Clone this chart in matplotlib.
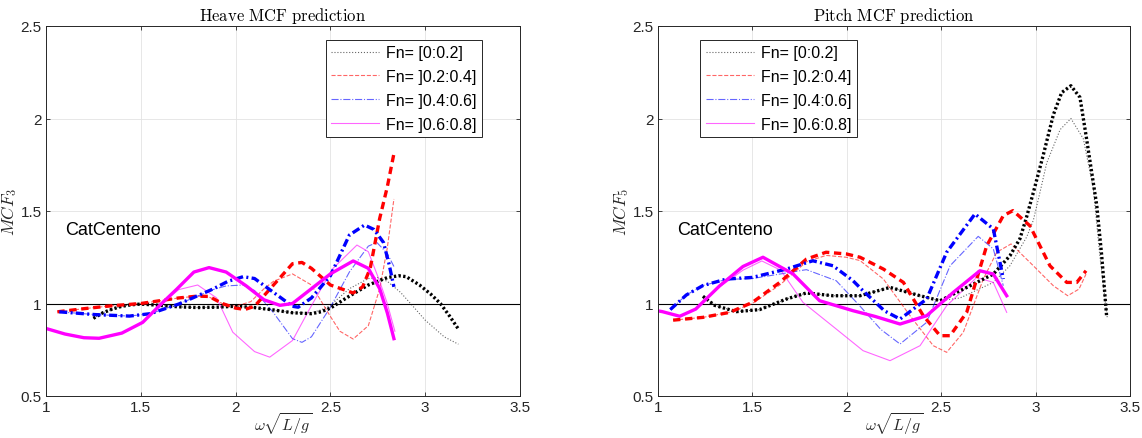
import matplotlib
matplotlib.use("Agg")
import matplotlib.pyplot as plt

# ========================================================================
# Data (omega*sqrt(L/g), MCF)
# ========================================================================
legend_labels = ["Fn= [0:0.2]", "Fn= ]0.2:0.4]", "Fn= ]0.4:0.6]", "Fn= ]0.6:0.8]"]

# --- Heave (MCF_3) ---
heave_fn1_thin_x = [1.25, 1.3, 1.35, 1.4, 1.45, 1.5, 1.6, 1.7, 1.8, 1.9, 2.0, 2.1, 2.2, 2.3, 2.4, 2.45, 2.5,
                    2.6, 2.7, 2.75, 2.8, 2.87, 2.94, 3.0, 3.1, 3.175]
heave_fn1_thin_y = [0.92, 0.95, 0.97, 0.985, 0.993, 0.997, 0.99, 0.982, 0.978, 0.98, 0.985, 0.978, 0.965, 0.95,
                    0.95, 0.965, 0.99, 1.08, 1.135, 1.14, 1.12, 1.06, 0.98, 0.91, 0.82, 0.78]
heave_fn1_thick_x = [1.25, 1.3, 1.35, 1.4, 1.45, 1.5, 1.6, 1.7, 1.8, 1.9, 2.0, 2.1, 2.2, 2.3, 2.4, 2.45, 2.5,
                     2.6, 2.7, 2.8, 2.86, 2.9, 2.97, 3.03, 3.08, 3.13, 3.175]
heave_fn1_thick_y = [0.92, 0.95, 0.97, 0.985, 0.993, 0.997, 0.99, 0.982, 0.978, 0.98, 0.985, 0.978, 0.965, 0.95,
                     0.945, 0.955, 0.975, 1.04, 1.10, 1.14, 1.15, 1.145, 1.10, 1.05, 1.0, 0.93, 0.862]

heave_fn2_thin_x = [1.06, 1.2, 1.35, 1.5, 1.6, 1.7, 1.8, 1.86, 1.93, 2.0, 2.08, 2.15, 2.2, 2.3, 2.4, 2.5, 2.55,
                    2.62, 2.7, 2.76, 2.8, 2.835]
heave_fn2_thin_y = [0.955, 0.972, 0.988, 1.0, 1.015, 1.03, 1.04, 1.035, 1.0, 0.985, 1.01, 1.08, 1.12, 1.16, 1.10,
                    0.93, 0.85, 0.808, 0.88, 1.08, 1.30, 1.565]
heave_fn2_thick_x = [1.06, 1.2, 1.35, 1.5, 1.6, 1.7, 1.8, 1.86, 1.93, 2.0, 2.05, 2.1, 2.2, 2.3, 2.35, 2.4, 2.5,
                     2.62, 2.67, 2.71, 2.76, 2.8, 2.835]
heave_fn2_thick_y = [0.955, 0.972, 0.988, 1.0, 1.015, 1.03, 1.04, 1.038, 1.0, 0.975, 0.968, 0.985, 1.10, 1.215,
                     1.222, 1.19, 1.10, 1.057, 1.09, 1.19, 1.46, 1.63, 1.81]

heave_fn3_thin_x = [1.07, 1.26, 1.44, 1.55, 1.7, 1.88, 1.95, 2.04, 2.1, 2.2, 2.3, 2.35, 2.4, 2.5, 2.6, 2.7,
                    2.745, 2.8, 2.835]
heave_fn3_thin_y = [0.955, 0.94, 0.932, 0.945, 0.997, 1.075, 1.095, 1.10, 1.07, 0.95, 0.81, 0.79, 0.82, 0.98,
                    1.17, 1.31, 1.33, 1.27, 1.20]
heave_fn3_thick_x = [1.07, 1.26, 1.44, 1.55, 1.7, 1.88, 1.96, 2.04, 2.1, 2.2, 2.3, 2.33, 2.4, 2.5, 2.6, 2.68,
                     2.73, 2.78, 2.81, 2.835]
heave_fn3_thick_y = [0.955, 0.94, 0.932, 0.945, 0.997, 1.078, 1.12, 1.145, 1.135, 1.06, 0.985, 0.98, 1.03, 1.15,
                     1.37, 1.424, 1.40, 1.33, 1.21, 1.09]

heave_fn4_thin_x = [1.0, 1.1, 1.2, 1.28, 1.4, 1.51, 1.6, 1.7, 1.8, 1.9, 1.985, 2.1, 2.18, 2.3, 2.39, 2.51, 2.64,
                    2.7, 2.76, 2.8, 2.84]
heave_fn4_thin_y = [0.865, 0.835, 0.815, 0.812, 0.84, 0.898, 0.99, 1.075, 1.10, 1.03, 0.845, 0.74, 0.71, 0.80,
                    0.97, 1.186, 1.316, 1.28, 1.12, 1.0, 0.85]
heave_fn4_thick_x = [1.0, 1.1, 1.2, 1.28, 1.4, 1.51, 1.6, 1.69, 1.78, 1.86, 1.95, 2.055, 2.15, 2.234, 2.3, 2.4,
                     2.5, 2.62, 2.7, 2.76, 2.8, 2.835]
heave_fn4_thick_y = [0.865, 0.835, 0.815, 0.812, 0.84, 0.898, 0.99, 1.078, 1.17, 1.194, 1.17, 1.096, 1.02, 0.99,
                     1.0, 1.08, 1.16, 1.23, 1.19, 1.08, 0.95, 0.81]

# --- Pitch (MCF_5) ---
pitch_fn1_thin_x = [1.238, 1.3, 1.415, 1.538, 1.68, 1.786, 1.927, 2.07, 2.229, 2.388, 2.494, 2.6, 2.776, 2.864,
                    2.953, 2.988, 3.023, 3.059, 3.13, 3.187, 3.253, 3.306, 3.34, 3.38]
pitch_fn1_thin_y = [1.039, 0.99, 0.956, 0.967, 1.024, 1.057, 1.042, 1.042, 1.087, 1.042, 1.015, 1.03, 1.114,
                    1.204, 1.36, 1.45, 1.60, 1.76, 1.94, 2.0, 1.89, 1.62, 1.26, 0.92]
pitch_fn1_thick_x = [1.238, 1.3, 1.415, 1.538, 1.68, 1.786, 1.927, 2.07, 2.229, 2.388, 2.494, 2.653, 2.776,
                     2.864, 2.917, 2.953, 2.988, 3.04, 3.094, 3.138, 3.187, 3.235, 3.27, 3.324, 3.35, 3.376]
pitch_fn1_thick_y = [1.039, 0.99, 0.956, 0.967, 1.024, 1.057, 1.042, 1.042, 1.087, 1.042, 1.015, 1.096, 1.159,
                     1.258, 1.35, 1.47, 1.60, 1.80, 2.02, 2.14, 2.177, 2.114, 1.89, 1.53, 1.26, 0.934]

pitch_fn2_thin_x = [1.08, 1.238, 1.38, 1.5, 1.645, 1.786, 1.89, 1.997, 2.07, 2.194, 2.335, 2.458, 2.529, 2.617,
                    2.723, 2.794, 2.87, 2.988, 3.094, 3.17, 3.23, 3.267]
pitch_fn2_thin_y = [0.91, 0.925, 0.952, 1.0, 1.10, 1.225, 1.26, 1.25, 1.232, 1.132, 0.934, 0.772, 0.736, 0.844,
                    1.132, 1.277, 1.322, 1.204, 1.096, 1.042, 1.078, 1.159]
pitch_fn2_thick_x = [1.08, 1.238, 1.38, 1.5, 1.645, 1.786, 1.89, 1.997, 2.07, 2.194, 2.3, 2.405, 2.494, 2.547,
                     2.635, 2.741, 2.829, 2.88, 2.97, 3.076, 3.165, 3.218, 3.267]
pitch_fn2_thick_y = [0.91, 0.925, 0.952, 1.006, 1.114, 1.24, 1.277, 1.268, 1.25, 1.186, 1.114, 0.934, 0.826,
                     0.826, 0.952, 1.312, 1.475, 1.502, 1.42, 1.204, 1.114, 1.114, 1.177]

pitch_fn3_thin_x = [1.065, 1.15, 1.238, 1.362, 1.5, 1.65, 1.786, 1.944, 2.068, 2.18, 2.282, 2.423, 2.547, 2.696,
                    2.776, 2.829]
pitch_fn3_thin_y = [0.967, 1.046, 1.097, 1.13, 1.135, 1.16, 1.183, 1.123, 0.988, 0.86, 0.781, 0.898, 1.204,
                    1.363, 1.295, 1.096]
pitch_fn3_thick_x = [1.065, 1.15, 1.238, 1.362, 1.5, 1.68, 1.82, 1.927, 2.033, 2.086, 2.2, 2.282, 2.423, 2.529,
                     2.679, 2.776, 2.829]
pitch_fn3_thick_y = [0.967, 1.046, 1.097, 1.132, 1.141, 1.186, 1.231, 1.204, 1.123, 1.069, 0.96, 0.916, 1.024,
                     1.277, 1.484, 1.403, 1.132]

pitch_fn4_thin_x = [1.0, 1.023, 1.115, 1.2, 1.327, 1.45, 1.55, 1.65, 1.768, 1.944, 2.086, 2.229, 2.388, 2.529,
                    2.688, 2.776, 2.847]
pitch_fn4_thin_y = [0.96, 0.956, 0.931, 0.97, 1.09, 1.18, 1.23, 1.18, 1.006, 0.862, 0.745, 0.691, 0.772, 0.988,
                    1.141, 1.114, 0.952]
pitch_fn4_thick_x = [1.0, 1.023, 1.115, 1.2, 1.327, 1.45, 1.556, 1.715, 1.856, 2.033, 2.15, 2.282, 2.423, 2.564,
                     2.705, 2.776, 2.847]
pitch_fn4_thick_y = [0.96, 0.956, 0.931, 0.97, 1.096, 1.20, 1.25, 1.16, 1.015, 0.961, 0.93, 0.889, 0.934, 1.06,
                     1.177, 1.159, 1.042]

x_ticks = [1, 1.5, 2, 2.5, 3, 3.5]
y_ticks = [0.5, 1, 1.5, 2, 2.5]

# ========================================================================
# Style (MATLAB-like)
# ========================================================================
plt.rcParams["font.family"] = ["Liberation Sans", "DejaVu Sans"]
plt.rcParams["mathtext.fontset"] = "cm"
plt.rcParams["xtick.direction"] = "in"
plt.rcParams["ytick.direction"] = "in"
plt.rcParams["xtick.top"] = True
plt.rcParams["ytick.right"] = True
plt.rcParams["xtick.major.size"] = 3
plt.rcParams["ytick.major.size"] = 3

colors = ["black", "red", "blue", "magenta"]
thin_styles = [":", "--", "-.", "-"]
# thick lines: fine dots for the black one, longer dashes for the rest
thick_styles = [(0, (0.7, 0.7)), (0, (2.2, 1.4)), (0, (2.4, 1.0, 0.6, 1.0)), "-"]


def draw_panel(ax, thin, thick, title, ylabel, legend_anchor):
    handles = []
    for (xs, ys), c, ls, lab in zip(thin, colors, thin_styles, legend_labels):
        h, = ax.plot(xs, ys, color=c, ls=ls, lw=0.8, alpha=0.6, label=lab)
        handles.append(h)
    for (xs, ys), c, ls in zip(thick, colors, thick_styles):
        ax.plot(xs, ys, color=c, ls=ls, lw=2.4)
    ax.axhline(1.0, color="black", lw=0.8, zorder=1)

    ax.set_xlim(1, 3.5)
    ax.set_ylim(0.5, 2.5)
    ax.set_xticks(x_ticks)
    ax.set_xticklabels(["1", "1.5", "2", "2.5", "3", "3.5"])
    ax.set_yticks(y_ticks)
    ax.set_yticklabels(["0.5", "1", "1.5", "2", "2.5"])
    ax.tick_params(labelsize=11, color="#262626", width=0.6, pad=3, labelcolor="#262626")
    ax.grid(True, color="#e3e3e3", lw=0.6)
    ax.set_axisbelow(True)
    for sp in ax.spines.values():
        sp.set_color("#262626")
        sp.set_linewidth(0.7)

    ax.set_title(r"$\mathrm{" + title.replace(" ", r"\ ") + "}$", fontsize=12, pad=4)
    ax.set_ylabel(ylabel, fontsize=12.5, color="#262626", labelpad=1)
    ax.set_xlabel(r"$\omega\sqrt{L/g}$", fontsize=11.5, color="#262626", labelpad=-2)
    ax.text(1.1, 1.4, "CatCenteno", fontsize=13, va="center", ha="left")

    leg = ax.legend(handles=handles, loc="upper left", bbox_to_anchor=legend_anchor, fontsize=11.5,
                    handlelength=3.0, handletextpad=0.45, labelspacing=0.55, borderpad=0.35,
                    fancybox=False, framealpha=1, edgecolor="#262626", borderaxespad=0)
    leg.get_frame().set_linewidth(0.7)


fig = plt.figure(figsize=(11.42, 4.39), dpi=100)
ax1 = fig.add_axes([46 / 1142, 42 / 439, 474 / 1142, 370 / 439])
ax2 = fig.add_axes([658 / 1142, 42 / 439, 472 / 1142, 370 / 439])

draw_panel(ax1,
           [(heave_fn1_thin_x, heave_fn1_thin_y), (heave_fn2_thin_x, heave_fn2_thin_y),
            (heave_fn3_thin_x, heave_fn3_thin_y), (heave_fn4_thin_x, heave_fn4_thin_y)],
           [(heave_fn1_thick_x, heave_fn1_thick_y), (heave_fn2_thick_x, heave_fn2_thick_y),
            (heave_fn3_thick_x, heave_fn3_thick_y), (heave_fn4_thick_x, heave_fn4_thick_y)],
           "Heave MCF prediction", r"$MCF_3$", (0.59, 0.963))

draw_panel(ax2,
           [(pitch_fn1_thin_x, pitch_fn1_thin_y), (pitch_fn2_thin_x, pitch_fn2_thin_y),
            (pitch_fn3_thin_x, pitch_fn3_thin_y), (pitch_fn4_thin_x, pitch_fn4_thin_y)],
           [(pitch_fn1_thick_x, pitch_fn1_thick_y), (pitch_fn2_thick_x, pitch_fn2_thick_y),
            (pitch_fn3_thick_x, pitch_fn3_thick_y), (pitch_fn4_thick_x, pitch_fn4_thick_y)],
           "Pitch MCF prediction", r"$MCF_5$", (0.09, 0.963))

fig.savefig("out.png", dpi=100)
plt.close(fig)
